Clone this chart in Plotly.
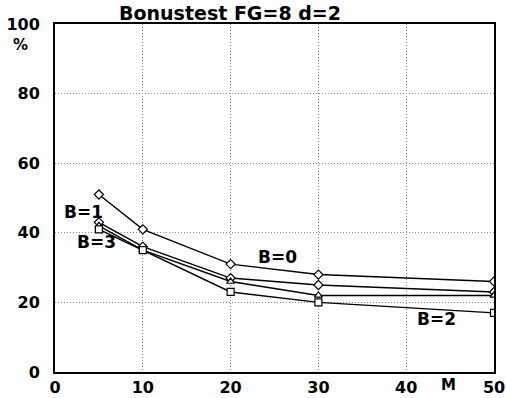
import plotly.graph_objects as go

M = [5, 10, 20, 30, 50]
B0 = [51, 41, 31, 28, 26]
B1 = [43, 36, 27, 25, 23]
B2 = [41, 35, 23, 20, 17]
B3 = [42, 35, 26, 22, 22]

series = [
    ("B=0", B0, "diamond"),
    ("B=1", B1, "diamond"),
    ("B=3", B3, "triangle-up"),
    ("B=2", B2, "square"),
]
labels = [
    ("B=1", 3.3, 46),
    ("B=3", 4.7, 37.3),
    ("B=0", 25.3, 33),
    ("B=2", 43.5, 15.3),
]

FONT = "DejaVu Sans"
BOLD = dict(family=FONT, color="black", weight="bold")

fig = go.Figure()
for name, ys, sym in series:
    fig.add_trace(go.Scatter(
        x=M, y=ys, mode="lines+markers", name=name,
        line=dict(color="black", width=1.4),
        marker=dict(symbol=sym, size=7, color="white",
                    line=dict(color="black", width=1.2)),
        showlegend=False,
    ))

for txt, x, y in labels:
    fig.add_annotation(x=x, y=y, text=txt, showarrow=False,
                       font=dict(BOLD, size=17))

fig.add_annotation(x=(448 - 55) / 439, y=-13 / 348, xref="paper", yref="paper", text="M",
                   xanchor="center", yanchor="middle", showarrow=False,
                   font=dict(BOLD, size=15))
fig.add_annotation(x=(20 - 55) / 439, y=(372 - 45) / 348, xref="paper", yref="paper", text="%",
                   xanchor="center", yanchor="middle", showarrow=False,
                   font=dict(BOLD, size=15))

fig.update_layout(
    width=506, height=398,
    margin=dict(l=55, r=12, t=24, b=26),
    paper_bgcolor="white", plot_bgcolor="white",
    title=dict(text="Bonustest FG=8 d=2", x=(230 - 55) / 439, xref="paper",
               xanchor="center", y=1 - 13 / 398, yanchor="middle",
               font=dict(BOLD, size=19)),
    font=dict(family=FONT, color="black"),
)
grid = dict(showgrid=True, gridcolor="#8a8a8a", griddash="1px,2px", gridwidth=1,
            showline=True, linecolor="black", linewidth=2, mirror=True,
            ticks="", zeroline=False, automargin=False, tickfont=dict(BOLD, size=16))
fig.update_xaxes(range=[0, 50], tickvals=[0, 10, 20, 30, 40, 50], **grid)
fig.update_yaxes(range=[0, 100], tickvals=[0, 20, 40, 60, 80, 100],
                 ticklabelstandoff=10, **grid)

fig.write_html("out.html", config={"displayModeBar": False},
               post_script="document.body.style.margin='0';document.body.style.padding='0';")
